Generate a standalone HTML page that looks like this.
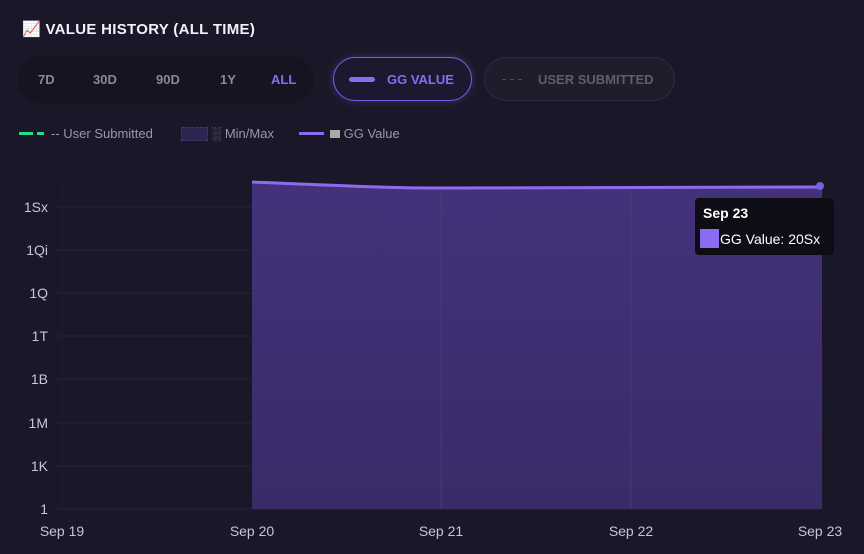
<!DOCTYPE html>
<html><head><meta charset="utf-8"><style>
body{margin:0;width:864px;height:554px;background:#1a1828;font-family:"Liberation Sans",sans-serif;overflow:hidden;position:relative}
.t{position:absolute;left:22px;top:20px;color:#f2f0f8;font-weight:bold;font-size:15px;letter-spacing:0.3px}
.seg{position:absolute;left:18px;top:56px;width:296px;height:47px;border-radius:24px;background:#161421}
.seg span{position:absolute;top:16px;font-size:13px;font-weight:bold;color:#8a879a}
.pill{position:absolute;top:57px;height:44px;border-radius:23px;box-sizing:border-box}
.lg{position:absolute;top:126px;font-size:13px;color:#9a97a8}
</style></head><body>
<div class="t">📈 VALUE HISTORY (ALL TIME)</div>
<div class="seg"><span style="left:20px">7D</span><span style="left:75px">30D</span><span style="left:138px">90D</span><span style="left:202px">1Y</span><span style="left:253px;color:#8b6cf0">ALL</span></div>
<div class="pill" style="left:333px;width:139px;border:1px solid #7b5ee0;background:#1c1830;box-shadow:0 0 8px rgba(123,94,224,0.35)">
<div style="position:absolute;left:15px;top:19px;width:26px;height:5px;border-radius:3px;background:#8b6cf0"></div>
<span style="position:absolute;left:53px;top:14px;font-size:13px;font-weight:bold;color:#8b6cf0">GG VALUE</span></div>
<div class="pill" style="left:484px;width:191px;border:1px solid #2e2b3d;background:#1f1d2b">
<span style="position:absolute;left:17px;top:13px;font-size:13px;color:#55526a">- - -</span>
<span style="position:absolute;left:53px;top:14px;font-size:13px;font-weight:bold;color:#5f5c70">USER SUBMITTED</span></div>
<div style="position:absolute;left:19px;top:132px;width:14px;height:3px;background:#22e08a"></div>
<div style="position:absolute;left:37px;top:132px;width:7px;height:3px;background:#22e08a"></div>
<div class="lg" style="left:51px">-- User Submitted</div>
<div style="position:absolute;left:181px;top:127px;width:25px;height:12px;background:#2a2650;border:1px dashed #3d3870"></div>
<div class="lg" style="left:212px">░ Min/Max</div>
<div style="position:absolute;left:299px;top:132px;width:25px;height:3px;background:#8b6cf0"></div>
<div class="lg" style="left:330px"><span style="display:inline-block;width:10px;height:8px;background:#aaa"></span> GG Value</div>
<svg width="864" height="554" style="position:absolute;left:0;top:0">
<defs><linearGradient id="g" x1="0" y1="0" x2="0" y2="1"><stop offset="0" stop-color="#43327a"/><stop offset="1" stop-color="#3a2b68"/></linearGradient></defs>
<g stroke="#252332" stroke-width="1">
<line x1="55" y1="207" x2="822" y2="207"/><line x1="55" y1="250" x2="822" y2="250"/><line x1="55" y1="293" x2="822" y2="293"/><line x1="55" y1="336" x2="822" y2="336"/><line x1="55" y1="379" x2="822" y2="379"/><line x1="55" y1="423" x2="822" y2="423"/><line x1="55" y1="466" x2="822" y2="466"/><line x1="55" y1="509" x2="822" y2="509"/>
<line x1="62" y1="180" x2="62" y2="512" stroke="#201e2c"/></g>
<path d="M252 182 C330 185 380 188 441 188 L822 187 L822 509 L252 509 Z" fill="url(#g)"/>
<g stroke="#47397a" stroke-width="1"><line x1="441" y1="188" x2="441" y2="509"/><line x1="631" y1="188" x2="631" y2="509"/></g>
<path d="M252 182 C330 185 380 188 441 188 L822 187" fill="none" stroke="#8b6cf0" stroke-width="3"/>
<circle cx="820" cy="186" r="4" fill="#7b5ee0"/>
<g fill="#c8c6d2" font-size="14" text-anchor="end">
<text x="48" y="212">1Sx</text><text x="48" y="255">1Qi</text><text x="48" y="298">1Q</text><text x="48" y="341">1T</text><text x="48" y="384">1B</text><text x="48" y="428">1M</text><text x="48" y="471">1K</text><text x="48" y="514">1</text></g>
<g fill="#c8c6d2" font-size="14" text-anchor="middle">
<text x="62" y="536">Sep 19</text><text x="252" y="536">Sep 20</text><text x="441" y="536">Sep 21</text><text x="631" y="536">Sep 22</text><text x="820" y="536">Sep 23</text></g>
<rect x="695" y="198" width="139" height="57" rx="4" fill="#0e0c14"/>
<text x="703" y="218" fill="#fff" font-size="14" font-weight="bold">Sep 23</text>
<rect x="700" y="229" width="19" height="19" fill="#8b6cf0"/>
<text x="720" y="244" fill="#fff" font-size="14">GG Value: 20Sx</text>
</svg>
</body></html>
